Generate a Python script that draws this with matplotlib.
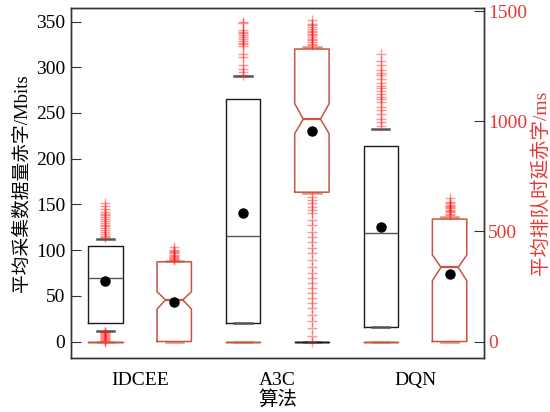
import matplotlib
matplotlib.use("Agg")
import matplotlib.pyplot as plt
import numpy as np

plt.rcParams['font.family'] = ['Liberation Serif', 'Noto Sans CJK SC', 'DejaVu Sans']
plt.rcParams['axes.unicode_minus'] = False

categories = ['IDCEE', 'A3C', 'DQN']

# Left axis: average collected data deficit (Mbits)
mb_q1 = [20, 20, 16]
mb_med = [70, 116, 119]
mb_q3 = [105, 265, 214]
mb_whislo = [12, 20, 16]
mb_whishi = [112, 290, 232]
mb_mean = [66, 141, 125]
mb_fliers = [
    [0, 1, 2, 3, 4, 5, 6, 7, 8, 9, 10, 11,
     114, 116, 118, 120, 122, 124, 126, 128, 130, 132, 134, 136, 138, 140, 142, 145, 148, 152],
    [292, 295, 298, 303, 311, 315, 323, 325, 327, 329, 331, 333, 335, 337, 339, 341, 348, 350],
    [236, 240, 243, 249, 253, 257, 262, 265, 268, 271, 274, 277, 280, 283, 287, 291, 294, 297, 302, 307, 315],
]

# Right axis: average queueing delay deficit (ms)
ms_q1 = [0, 678, 0]
ms_med = [189, 1010, 337]
ms_q3 = [362, 1328, 556]
ms_cilo = [147, 944, 276]
ms_cihi = [226, 1080, 393]
ms_whislo = [0, 674, 0]
ms_whishi = [367, 1338, 566]
ms_mean = [180, 958, 307]
ms_fliers = [
    [370, 375, 380, 385, 390, 395, 400, 405, 410, 415, 430],
    [1345, 1352, 1360, 1368, 1375, 1382, 1390, 1398, 1405, 1412, 1420, 1428, 1435, 1443, 1458,
     0, 23, 61, 91, 121, 151, 174, 197, 219, 242, 265, 287, 310, 340, 370, 400, 423, 453, 476,
     498, 529, 551, 582, 597, 612, 627, 642, 657],
    [574, 580, 586, 592, 598, 604, 610, 616, 622, 628, 634, 650],
]

left_ticks = [0, 50, 100, 150, 200, 250, 300, 350]
right_ticks = [0, 500, 1000, 1500]

black = '#1a1a1a'
redbox = '#c8553f'
redtxt = '#e53935'
flier_c = '#ff1a1a'

fig = plt.figure(figsize=(5.5, 4.12), dpi=100)
ax = fig.add_axes([0.129, 0.131, 0.751, 0.850])
ax2 = ax.twinx()

centers = np.arange(1, len(categories) + 1)
off = 0.25
w = 0.25
pos_b = centers - off
pos_r = centers + off

def zero_stat():
    return dict(med=0, q1=0, q3=0, whislo=0, whishi=0, fliers=[], cilo=0, cihi=0)

stats_l = []
for i in range(len(categories)):
    stats_l.append(dict(med=mb_med[i], q1=mb_q1[i], q3=mb_q3[i], whislo=mb_whislo[i],
                        whishi=mb_whishi[i], fliers=mb_fliers[i]))
# empty (all-zero) boxes of the left series at the right-series slots (hidden where the red box starts at 0)
lz_pos = [pos_r[i] for i in range(len(categories)) if ms_q1[i] > 0]
stats_lz = [zero_stat() for _ in lz_pos]

flierprops = dict(marker='+', markeredgecolor=flier_c, markersize=7, markeredgewidth=1.0,
                  alpha=0.45, linestyle='none')

ax.bxp(stats_l, positions=pos_b, widths=w, showfliers=True, manage_ticks=False,
       boxprops=dict(color=black, lw=1.0),
       medianprops=dict(color='#555555', lw=1.0),
       whiskerprops=dict(lw=0),
       capprops=dict(color='#555555', lw=1.8),
       flierprops=flierprops)
if lz_pos:
    ax.bxp(stats_lz, positions=lz_pos, widths=w, showfliers=False, manage_ticks=False,
           boxprops=dict(color=black, lw=1.0),
           medianprops=dict(color=black, lw=1.0),
           whiskerprops=dict(lw=0),
           capprops=dict(color=black, lw=1.0))
ax.plot(pos_b, mb_mean, 'o', color='black', markersize=6.5, zorder=5)

stats_r = []
for i in range(len(categories)):
    stats_r.append(dict(med=ms_med[i], q1=ms_q1[i], q3=ms_q3[i], whislo=ms_whislo[i],
                        whishi=ms_whishi[i], fliers=ms_fliers[i], cilo=ms_cilo[i], cihi=ms_cihi[i]))
stats_rz = [zero_stat() for _ in categories]

ax2.bxp(stats_r, positions=pos_r, widths=w, showfliers=True, manage_ticks=False, shownotches=True,
        boxprops=dict(color=redbox, lw=1.1, zorder=2.5),
        medianprops=dict(color=redbox, lw=1.6),
        whiskerprops=dict(lw=0),
        capprops=dict(color='#e09080', lw=1.8, zorder=1.5),
        flierprops=flierprops)
ax2.bxp(stats_rz, positions=pos_b, widths=w, showfliers=False, manage_ticks=False,
        boxprops=dict(color=redbox, lw=1.0),
        medianprops=dict(color=redbox, lw=1.0),
        whiskerprops=dict(lw=0),
        capprops=dict(color=redbox, lw=1.0))
ax2.plot(pos_r, ms_mean, 'o', color='black', markersize=6.5, zorder=5)

ax.set_xlim(0.5, 3.5)
ax.set_ylim(-18, 365)
ax2.set_ylim(-75, 1515)

ax.set_xticks(centers)
ax.set_xticklabels(categories, fontsize=14)
ax.tick_params(axis='x', length=0, pad=10)
ax.set_yticks(left_ticks)
ax.tick_params(axis='y', direction='in', length=7, labelsize=14, pad=4, color='#333333')
ax2.set_yticks(right_ticks)
ax2.tick_params(axis='y', direction='in', length=7, labelsize=14, pad=3,
                labelcolor=redtxt, color='#333333')

ax.set_ylabel('平均采集数据量赤字/Mbits', fontsize=13.5, labelpad=4)
ax2.set_ylabel('平均排队时延赤字/ms', fontsize=14, color=redtxt, labelpad=3)
ax.set_xlabel('算法', fontsize=14, labelpad=1)

for a in (ax, ax2):
    for s in a.spines.values():
        s.set_color('#333333')
        s.set_linewidth(1.0)

fig.savefig('out.png', dpi=100)
